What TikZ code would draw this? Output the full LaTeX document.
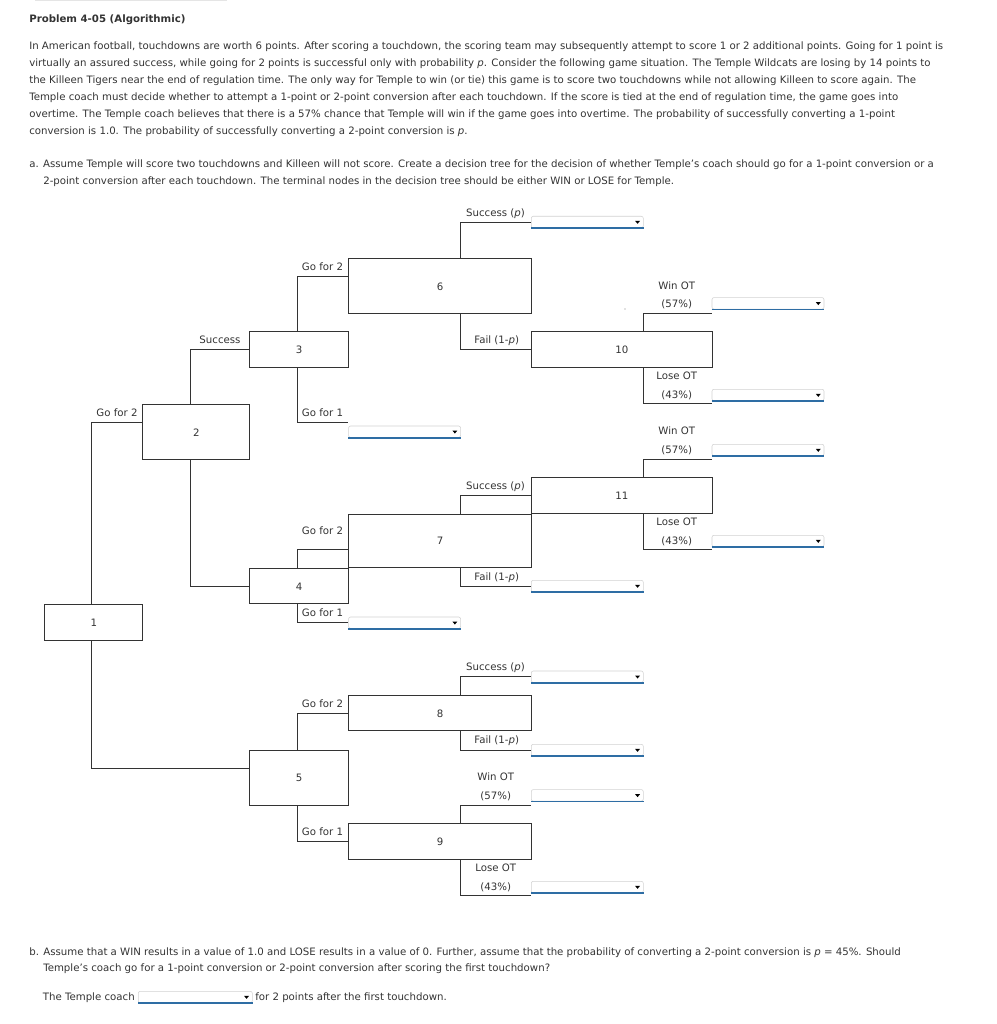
\documentclass[tikz,border=0pt]{standalone}
\usepackage{fontspec}
\setmainfont{DejaVu Sans}
\usepackage{tikz}
\usetikzlibrary{calc}
\usepackage{xcolor}
\definecolor{ink}{HTML}{333333}
\definecolor{ddblue}{HTML}{2E6DA4}
\definecolor{ddgray}{HTML}{D2D2D2}
\newcommand{\qfont}{\fontsize{7.25}{8.5}\selectfont}

\begin{document}
\begin{tikzpicture}[
  x=0.25mm, y=-0.25mm,
  txt/.style={anchor=base west, inner sep=0pt, font=\qfont, text=ink},
  lab/.style={anchor=base, inner sep=0pt, align=center,
              font=\fontsize{7.25}{13.2}\selectfont, text=ink},
  box/.style 2 args={rectangle, draw=ink, line width=0.25mm, fill=white,
              anchor=north west, inner sep=0pt, font=\qfont, text=ink,
              minimum width=#1*0.25mm, minimum height=#2*0.25mm},
  dd/.style={rectangle, draw=ddgray, rounded corners=0.5mm, fill=white,
              anchor=north west, inner sep=0pt,
              minimum width=112*0.25mm, minimum height=11.5*0.25mm},
  ddline/.style={draw=ddblue, line width=0.4mm},
  link/.style={draw=ink, line width=0.25mm}
]
\useasboundingbox (0,0) rectangle (996,1024);
\draw[gray!20, line width=0.5mm] (35,0.5) -- (227,0.5);

% question text
\node[txt, font=\qfont\bfseries] (title) at (29,22.5) {Problem 4-05 (Algorithmic)};
\node[txt] (p1) at (29,49.5) {In American football, touchdowns are worth 6 points. After scoring a touchdown, the scoring team may subsequently attempt to score 1 or 2 additional points. Going for 1 point is};
\node[txt] (p2) at (29,66.5) {virtually an assured success, while going for 2 points is successful only with probability \textit{p}. Consider the following game situation. The Temple Wildcats are losing by 14 points to};
\node[txt] (p3) at (29,83.5) {the Killeen Tigers near the end of regulation time. The only way for Temple to win (or tie) this game is to score two touchdowns while not allowing Killeen to score again. The};
\node[txt] (p4) at (29,100.5) {Temple coach must decide whether to attempt a 1-point or 2-point conversion after each touchdown. If the score is tied at the end of regulation time, the game goes into};
\node[txt] (p5) at (29,117.5) {overtime. The Temple coach believes that there is a 57\% chance that Temple will win if the game goes into overtime. The probability of successfully converting a 1-point};
\node[txt] (p6) at (29,134.5) {conversion is 1.0. The probability of successfully converting a 2-point conversion is \textit{p}.};
\node[txt] (a1) at (29,167.5) {a. Assume Temple will score two touchdowns and Killeen will not score. Create a decision tree for the decision of whether Temple's coach should go for a 1-point conversion or a};
\node[txt] (a2) at (43,184.5) {2-point conversion after each touchdown. The terminal nodes in the decision tree should be either WIN or LOSE for Temple.};

% tree boxes
\node[box={98}{36}]      (b1)  at (44.3,604.3) {1};
\node[box={107}{55}]     (b2)  at (142.3,404.3) {2};
\node[box={98.4}{36}]    (b3)  at (249.3,331.3) {3};
\node[box={98.4}{35}]    (b4)  at (249.3,568.3) {4};
\node[box={98.4}{55}]    (b5)  at (249.3,750) {5};
\node[box={182.7}{55}]   (b6)  at (348.3,258.3) {6};
\node[box={182.7}{53.3}] (b7)  at (348.3,514) {7};
\node[box={182.7}{35}]   (b8)  at (348.3,695.3) {8};
\node[box={182.7}{36}]   (b9)  at (348.3,823.3) {9};
\node[box={180.7}{36}]   (b10) at (531,331.3) {10};
\node[box={180.7}{36}]   (b11) at (531,477.3) {11};

% answer drop-downs
\node[dd] (s6)  at (531,216) {};
\node[dd] (g3)  at (348.3,425.7) {};
\node[dd] (w10) at (711.7,297.3) {};
\node[dd] (l10) at (711.7,389) {};
\node[dd] (w11) at (711.7,444) {};
\node[dd] (l11) at (711.7,535) {};
\node[dd] (f7)  at (531,580) {};
\node[dd] (g4)  at (348.3,616.7) {};
\node[dd] (s8)  at (531,670.7) {};
\node[dd] (f8)  at (531,744) {};
\node[dd] (w9)  at (531,789.3) {};
\node[dd] (l9)  at (531,881) {};
\node[dd, minimum width=114*0.25mm] (ans) at (138,991) {};
\foreach \d in {s6,g3,w10,l10,w11,l11,f7,g4,s8,f8,w9,l9,ans}{
  \draw[ddline] (\d.south west) -- (\d.south east);
  \fill[black] ($(\d.east)+(-8.5,-1.2)$) -- ++(5,0) -- ++(-2.5,3) -- cycle;
}

% branches
\draw[link] ($(b1.north west)+(47,0)$) |- ($(b2.north west)+(0,18)$);
\draw[link] ($(b1.south west)+(47,0)$) |- ($(b5.north west)+(0,18.3)$);
\draw[link] ($(b2.north west)+(48.4,0)$) |- (b3.west);
\draw[link] ($(b2.south west)+(48.4,0)$) |- (b4.west);
\draw[link] ($(b3.north west)+(48,0)$) |- ($(b6.north west)+(0,18)$);
\draw[link] ($(b3.south west)+(48,0)$) |- ($(g3.north west)+(0,-3.4)$);
\draw[link] ($(b4.north west)+(48,0)$) |- ($(b7.north west)+(0,35.3)$);
\draw[link] ($(b4.south west)+(48,0)$) |- (g4.west);
\draw[link] ($(b5.north west)+(48,0)$) |- ($(b8.north west)+(0,18)$);
\draw[link] ($(b5.south west)+(48,0)$) |- (b9.west);
\draw[link] ($(b6.north west)+(112,0)$) |- (s6.west);
\draw[link] ($(b6.south west)+(112,0)$) |- (b10.west);
\draw[link] ($(b7.north west)+(112,0)$) |- (b11.west);
\draw[link] ($(b7.south west)+(112,0)$) |- (f7.west);
\draw[link] ($(b8.north west)+(112,0)$) |- (s8.west);
\draw[link] ($(b8.south west)+(112,0)$) |- (f8.west);
\draw[link] ($(b9.north west)+(112,0)$) |- ($(w9.south west)+(0,4.2)$);
\draw[link] ($(b9.south west)+(112,0)$) |- ($(l9.south west)+(0,2.5)$);
\draw[link] ($(b10.north west)+(112.3,0)$) |- ($(w10.south west)+(0,4.5)$);
\draw[link] ($(b10.south west)+(112.3,0)$) |- ($(l10.south west)+(0,2.8)$);
\draw[link] ($(b11.north west)+(112.3,0)$) |- ($(w11.south west)+(0,3.8)$);
\draw[link] ($(b11.south west)+(112.3,0)$) |- ($(l11.south west)+(0,2.8)$);
\fill[gray] (625,309) circle (0.6);

% branch labels
\node[lab] (t1)  at (117,416.2)   {Go for 2};
\node[lab] (t2)  at (220,343.5)   {Success};
\node[lab] (t3a) at (322.5,270.2) {Go for 2};
\node[lab] (t3b) at (322.5,416.2) {Go for 1};
\node[lab] (t4a) at (322.5,534.5) {Go for 2};
\node[lab] (t4b) at (322.5,616.8) {Go for 1};
\node[lab] (t5a) at (322.5,707.5) {Go for 2};
\node[lab] (t5b) at (322.5,835.2) {Go for 1};
\node[lab] (t6a) at (495.5,216.8) {Success (\textit{p})};
\node[lab] (t6b) at (496.7,343.5) {Fail (1-\textit{p})};
\node[lab] (t7a) at (495.5,489.5) {Success (\textit{p})};
\node[lab] (t7b) at (496.7,580.2) {Fail (1-\textit{p})};
\node[lab] (t8a) at (495.5,670.8) {Success (\textit{p})};
\node[lab] (t8b) at (496.7,743.5) {Fail (1-\textit{p})};
% two-line labels: base is the second line
\node[lab] (t9a) at (495.7,799.2)  {Win OT\\(57\%)};
\node[lab] (t9b) at (495.7,890.2)  {Lose OT\\(43\%)};
\node[lab] (t10a) at (676.7,307.8) {Win OT\\(57\%)};
\node[lab] (t10b) at (676.7,398.5) {Lose OT\\(43\%)};
\node[lab] (t11a) at (676.7,453.5) {Win OT\\(57\%)};
\node[lab] (t11b) at (676.7,544.5) {Lose OT\\(43\%)};

% part b
\node[txt] (q1) at (29,955.5) {b. Assume that a WIN results in a value of 1.0 and LOSE results in a value of 0. Further, assume that the probability of converting a 2-point conversion is \textit{p} = 45\%. Should};
\node[txt] (q2) at (43,971.5) {Temple's coach go for a 1-point conversion or 2-point conversion after scoring the first touchdown?};
\node[txt, anchor=base east] (q3) at (135,1000.5) {The Temple coach};
\node[txt] (q4) at (255,1000.5) {for 2 points after the first touchdown.};
\end{tikzpicture}
\end{document}
